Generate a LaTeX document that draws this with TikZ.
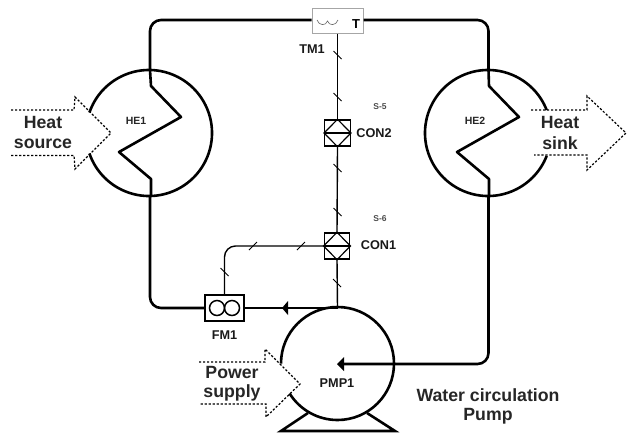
\documentclass[tikz,border=0pt]{standalone}
\usepackage{fontspec}
\setmainfont{Liberation Sans}
\usetikzlibrary{arrows.meta,shapes.geometric,calc}
\tikzset{
  pipe/.style={line width=2.6pt,black,line join=round},
  thinpipe/.style={line width=1.4pt,black},
  ring/.style={line width=2.6pt,black},
  flow/.style={line width=1.2pt,black,dash pattern=on 2.2pt off 1.8pt},
  devbox/.style={draw=black,line width=1.4pt,rectangle,inner sep=0pt,minimum width=25.5pt,minimum height=26pt,fill=white},
  sensorbox/.style={draw=black!35,line width=1pt,rectangle,inner sep=0pt,minimum width=51pt,minimum height=25pt,fill=white},
  tag/.style={font=\bfseries\fontsize{12.7}{14}\selectfont,inner sep=0pt,text=black!90},
  hetag/.style={font=\bfseries\fontsize{10.5}{12}\selectfont,inner sep=0pt,text=black!85},
  tinytag/.style={font=\bfseries\fontsize{8.5}{10}\selectfont,inner sep=0pt,text=black!70},
  bigtag/.style={font=\bfseries\fontsize{17.7}{20}\selectfont,inner sep=0pt,text=black!85},
}
\newcommand{\hatchback}[1]{\draw[line width=.9pt] ($(#1)+(-4,-4)$) -- ($(#1)+(4,4)$);}
\newcommand{\hatchfwd}[1]{\draw[line width=.9pt] ($(#1)+(-4,4)$) -- ($(#1)+(4,-4)$);}
\begin{document}
\begin{tikzpicture}[x=1pt,y=-1pt]
\useasboundingbox (0,0) rectangle (628,432);
% coordinates
\coordinate (he1top) at (150,70);
\coordinate (he1bot) at (150,196);
\coordinate (he2top) at (488.5,70);
\coordinate (he2bot) at (488.5,196);
\coordinate (pmptop) at (337.5,308);
\coordinate (pmpin) at (337,364);
% heat exchanger and pump circles, open where the arrows enter
\draw[ring] (149,133) ++(199:63) arc[start angle=199,end angle=521,radius=63];
\draw[ring] (488,133) ++(-21.4:63) arc[start angle=-21.4,end angle=-338.6,radius=63];
\draw[ring] (337.5,363.5) ++(180:56.5) arc[start angle=180,end angle=508,radius=56.5];
% pump feet
\coordinate (foota) at (281,431);
\coordinate (footb) at (395,431);
\draw[line width=2.6pt,line join=miter] (308,413) -- (foota) -- (footb) -- (367,413);
% devices
\node[sensorbox] (tm) at (337.5,20.5) {};
\node[devbox] (con2) at (337.5,133) {};
\node[devbox] (con1) at (337,246) {};
\node[devbox,minimum width=39pt] (fm) at (224.5,308) {};
% bold pipes
\draw[pipe,rounded corners=11pt] (he1top) -- (150,20) -- (tm.west |- 0,20);
\draw[pipe,rounded corners=11pt] (tm.east |- 0,20) -- (488.5,20) -- (he2top);
\draw[pipe,rounded corners=11pt] (he1bot) -- (150,308) -- (fm.west);
\draw[pipe] (pmptop) -- (fm.east);
\draw[pipe,rounded corners=11pt] (he2bot) -- (488.5,364) -- (344,364);
\draw[pipe] (he1top) -- (151,86) -- (181,117) -- (119,152) -- (151,179) -- (151,196);
\draw[pipe] (he2top) -- (489,86) -- (519,117) -- (457,152) -- (489,179) -- (489,196);
\fill (282,308) -- (288,301) -- (288,315) -- cycle;
\fill (pmpin) -- (344,357) -- (344,371) -- cycle;
% thin pipes
\draw[thinpipe] (tm.south) -- (con2.north);
\draw[thinpipe] (con2.south) -- (con1.north);
\draw[thinpipe] (con1.south) -- (pmptop);
\draw[thinpipe,rounded corners=11pt] (fm.north) -- (224.5,246) -- (con1.west);
% ticks
\foreach \n/\p in {a/{337.5,55},b/{337.5,97},c/{337.5,168},d/{337.5,212},e/{337,283},f/{224.5,272}}{
  \coordinate (tk\n) at (\p);
  \hatchback{tk\n}
}
\foreach \n/\p in {g/{253,246},h/{301,246}}{
  \coordinate (tk\n) at (\p);
  \hatchfwd{tk\n}
}
% symbols inside devices
\foreach \b in {con1,con2}{
  \draw[line width=1.2pt] (\b.north) -- (\b.east) -- (\b.south) -- (\b.west) -- cycle;
  \draw[line width=1.2pt] (\b.west) -- (\b.east);
}
\draw[line width=1.5pt] (217,308) circle[radius=7.5];
\draw[line width=1.5pt] (232,308) circle[radius=7.5];
\draw[line width=.6pt,black!60] (317,20) .. controls (319,26) and (326,26) .. (327.5,21) .. controls (329,26) and (336,26) .. (338,20);
% dashed block arrows
\draw[flow] (11,110) -- (74,110) -- (75,97) -- (111,133) -- (75,169) -- (74,155.5) -- (11,155.5);
\draw[flow] (531,110) -- (587,110) -- (587,96) -- (626,133) -- (587,170) -- (587,155) -- (534,155);
\draw[flow] (199,362) -- (265,362) -- (265,349) -- (300,384) -- (266,417) -- (266,404) -- (199,404);
% labels
\node[inner sep=0pt,font=\bfseries\fontsize{13}{14}\selectfont] (tl) at (356,24) {T};
\node[tag] (tml) at (312,49) {TM1};
\node[tinytag] (s5) at (380,107) {S-5};
\node[tinytag] (s6) at (380,219) {S-6};
\node[tag] (c2l) at (374,133) {CON2};
\node[tag] (c1l) at (378.5,245) {CON1};
\node[tag] (fml) at (224.5,335) {FM1};
\node[hetag] (h1l) at (136,121) {HE1};
\node[hetag] (h2l) at (475,121) {HE2};
\node[tag] (pl) at (337,383) {PMP1};
\node[bigtag] (n1) at (43,122) {Heat};
\node[bigtag] (n2) at (43,143.5) {source};
\node[bigtag] (n3) at (560,122) {Heat};
\node[bigtag] (n4) at (560,143.5) {sink};
\node[bigtag] (n5) at (232,372) {Power};
\node[bigtag] (n6) at (232,393) {supply};
\node[bigtag] (n7) at (488,395) {Water circulation};
\node[bigtag] (n8) at (488,416) {Pump};
\end{tikzpicture}
\end{document}
